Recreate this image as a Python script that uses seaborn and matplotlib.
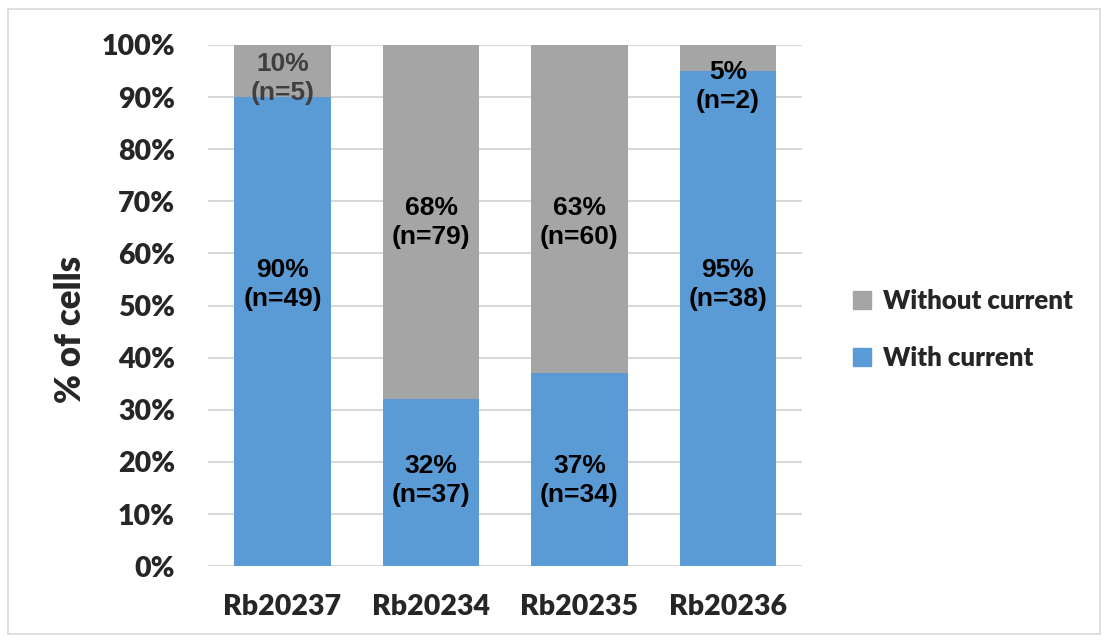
import matplotlib
matplotlib.use("Agg")
import matplotlib.pyplot as plt
import matplotlib.patches as mpatches
import seaborn as sns
import pandas as pd
import numpy as np

categories = ["Rb20237", "Rb20234", "Rb20235", "Rb20236"]
with_pct = [90, 32, 37, 95]
with_n = [49, 37, 34, 38]
without_pct = [10, 68, 63, 5]
without_n = [5, 79, 60, 2]
yticks = [0, 10, 20, 30, 40, 50, 60, 70, 80, 90, 100]

BLUE = "#5B9BD5"
GRAY = "#A5A5A5"
W = "heavy"

sns.set_theme(style="white")
plt.rcParams["font.family"] = ["Lato", "DejaVu Sans"]

df = pd.DataFrame({
    "cat": categories,
    "with": with_pct,
    "without": without_pct,
})
df["total"] = df["with"] + df["without"]

fig = plt.figure(figsize=(11.08, 6.42), dpi=100)
ax = fig.add_axes([0.188, 0.118, 0.536, 0.812])

sns.barplot(data=df, x="cat", y="total", color=GRAY, width=0.65, ax=ax,
            saturation=1, linewidth=0, zorder=3)
sns.barplot(data=df, x="cat", y="with", color=BLUE, width=0.65, ax=ax,
            saturation=1, linewidth=0, zorder=3)

ax.set_ylim(0, 100)
ax.set_xlim(-0.5, len(categories) - 0.5)
ax.set_yticks(yticks)
ax.set_yticklabels([f"{t}%" for t in yticks], fontsize=20.5, fontweight=W)
ax.tick_params(axis="x", labelsize=20.5, length=0, pad=20)
ax.tick_params(axis="y", length=0, pad=24)
for lab in ax.get_xticklabels():
    lab.set_fontweight(W)
ax.set_xlabel("")
ax.set_ylabel("% of cells", fontsize=25, fontweight=W)
ax.yaxis.set_label_coords(-0.232, 0.455)
ax.yaxis.label.set_va("center")
ax.yaxis.grid(True, color="#D9D9D9", linewidth=1.5, zorder=0)
ax.set_axisbelow(True)
for s in ax.spines.values():
    s.set_visible(False)

# data labels (label anchors, in % units)
with_label_y = [54, 16.5, 16.5, 54]
without_label_y = [93.5, 66, 66, 92]
label_font = dict(family=["Liberation Sans", "DejaVu Sans"], fontsize=19,
                  fontweight="bold", ha="center", va="center", zorder=5,
                  linespacing=1.25)
for i in range(len(categories)):
    ax.text(i, with_label_y[i], f"{with_pct[i]}%\n(n={with_n[i]})",
            color="black", **label_font)
    c = "#3F3F3F" if i == 0 else "black"
    ax.text(i, without_label_y[i], f"{without_pct[i]}%\n(n={without_n[i]})",
            color=c, **label_font)

handles = [mpatches.Patch(color=GRAY, label="Without current"),
           mpatches.Patch(color=BLUE, label="With current")]
fig.legend(handles=handles, loc="center left", bbox_to_anchor=(0.749, 0.487),
           frameon=False, prop=dict(family="Lato", weight=W, size=18.5),
           handlelength=0.7, handleheight=0.7, handletextpad=0.45,
           labelspacing=1.3)

# outer chart border
fig.patches.append(mpatches.Rectangle((0.007, 0.012), 0.986, 0.974,
                                      transform=fig.transFigure, fill=False,
                                      edgecolor="#D9D9D9", linewidth=1.2))

fig.savefig("out.png", dpi=100)
